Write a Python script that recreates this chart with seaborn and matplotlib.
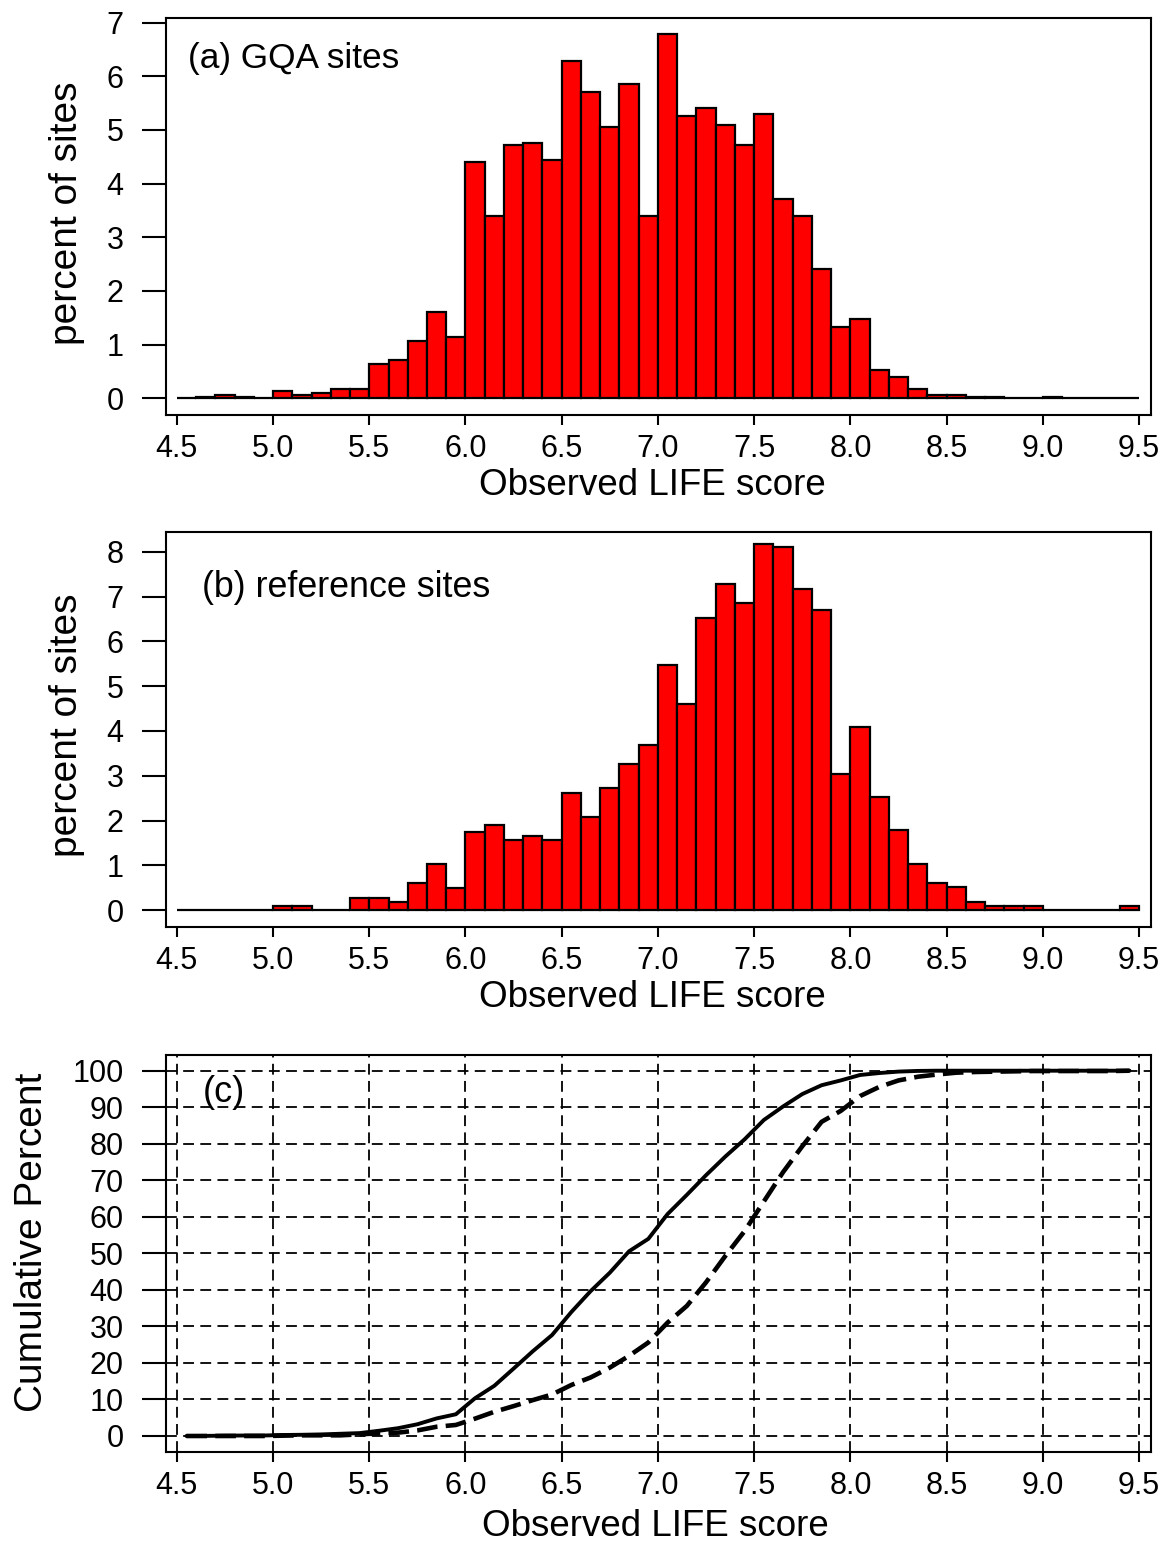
import numpy as np
import pandas as pd
import matplotlib
matplotlib.use("Agg")
import matplotlib.pyplot as plt
import seaborn as sns

# ---------------- data ----------------
# histogram bins: width 0.1 from 4.5 to 9.5 (lower edges 4.5 ... 9.4)
bin_lo = [4.5, 4.6, 4.7, 4.8, 4.9, 5.0, 5.1, 5.2, 5.3, 5.4,
          5.5, 5.6, 5.7, 5.8, 5.9, 6.0, 6.1, 6.2, 6.3, 6.4,
          6.5, 6.6, 6.7, 6.8, 6.9, 7.0, 7.1, 7.2, 7.3, 7.4,
          7.5, 7.6, 7.7, 7.8, 7.9, 8.0, 8.1, 8.2, 8.3, 8.4,
          8.5, 8.6, 8.7, 8.8, 8.9, 9.0, 9.1, 9.2, 9.3, 9.4]

# (a) GQA sites: percent of sites per bin
pct_gqa = [0.00, 0.03, 0.07, 0.03, 0.00, 0.14, 0.06, 0.10, 0.18, 0.18,
           0.64, 0.71, 1.07, 1.60, 1.14, 4.40, 3.40, 4.71, 4.75, 4.44,
           6.29, 5.71, 5.06, 5.86, 3.40, 6.79, 5.25, 5.40, 5.09, 4.71,
           5.29, 3.71, 3.40, 2.41, 1.33, 1.48, 0.53, 0.40, 0.18, 0.06,
           0.06, 0.03, 0.03, 0.00, 0.00, 0.03, 0.00, 0.00, 0.00, 0.00]

# (b) reference sites: percent of sites per bin
pct_ref = [0.00, 0.00, 0.00, 0.00, 0.00, 0.09, 0.09, 0.00, 0.00, 0.28,
           0.28, 0.19, 0.60, 1.02, 0.50, 1.75, 1.89, 1.56, 1.66, 1.56,
           2.62, 2.07, 2.72, 3.26, 3.68, 5.48, 4.61, 6.53, 7.27, 6.85,
           8.18, 8.10, 7.17, 6.71, 3.04, 4.08, 2.53, 1.79, 1.02, 0.61,
           0.51, 0.19, 0.09, 0.09, 0.09, 0.00, 0.00, 0.00, 0.00, 0.09]

# (c) cumulative percent at bin mid-points
cum_gqa = [0.00, 0.03, 0.10, 0.13, 0.13, 0.27, 0.33, 0.43, 0.61, 0.79,
           1.43, 2.14, 3.21, 4.81, 5.95, 10.35, 13.75, 18.46, 23.21, 27.65,
           33.94, 39.65, 44.71, 50.57, 53.97, 60.76, 66.01, 71.41, 76.50, 81.21,
           86.50, 90.21, 93.61, 96.02, 97.35, 98.83, 99.36, 99.76, 99.94, 100.0,
           100.0, 100.0, 100.0, 100.0, 100.0, 100.0, 100.0, 100.0, 100.0, 100.0]

cum_ref = [0.00, 0.00, 0.00, 0.00, 0.00, 0.09, 0.18, 0.18, 0.18, 0.46,
           0.73, 0.92, 1.52, 2.53, 3.02, 4.76, 6.63, 8.18, 9.83, 11.37,
           13.97, 16.02, 18.72, 21.95, 25.60, 31.04, 35.61, 42.08, 49.29, 56.09,
           64.20, 72.23, 79.34, 86.00, 89.01, 93.06, 95.57, 97.34, 98.35, 98.96,
           99.46, 99.65, 99.74, 99.83, 99.91, 99.91, 99.91, 99.91, 99.91, 100.0]

x_ticks = [4.5, 5.0, 5.5, 6.0, 6.5, 7.0, 7.5, 8.0, 8.5, 9.0, 9.5]
x_ticklabels = ["4.5", "5.0", "5.5", "6.0", "6.5", "7.0", "7.5", "8.0", "8.5", "9.0", "9.5"]
y_ticks_a = [0, 1, 2, 3, 4, 5, 6, 7]
y_ticks_b = [0, 1, 2, 3, 4, 5, 6, 7, 8]
y_ticks_c = [0, 10, 20, 30, 40, 50, 60, 70, 80, 90, 100]

# ---------------- style ----------------
sns.set_style("ticks")
plt.rcParams["font.family"] = ["Liberation Sans", "DejaVu Sans"]
plt.rcParams["axes.linewidth"] = 1.5
plt.rcParams["text.color"] = "black"
plt.rcParams["axes.labelcolor"] = "black"
plt.rcParams["xtick.color"] = "black"
plt.rcParams["ytick.color"] = "black"
plt.rcParams["xtick.labelcolor"] = "black"
plt.rcParams["ytick.labelcolor"] = "black"

BW = 0.1
mids = np.array(bin_lo) + BW / 2

df = pd.DataFrame({"score": mids, "gqa": pct_gqa, "ref": pct_ref,
                   "cum_gqa": cum_gqa, "cum_ref": cum_ref})

fig = plt.figure(figsize=(11.69, 15.44), dpi=100)
W, H = 1169.0, 1544.0


def add_ax(left, top, right, bottom):
    return fig.add_axes([left / W, 1 - bottom / H, (right - left) / W, (bottom - top) / H])


ax_a = add_ax(166, 17.7, 1150.7, 415)
ax_b = add_ax(166, 532, 1150.7, 926.7)
ax_c = add_ax(166, 1055, 1150.7, 1451.7)

XLIM = (4.444, 9.56)
TICK_FS = 22
LABEL_FS = 26.5
YLABEL_FS = 28


def style_axis(ax, yticks, ylabel, ylabel_x, ylabel_y, xlabel_x, xlabel_y):
    ax.set_xlim(*XLIM)
    ax.set_xticks(x_ticks)
    ax.set_xticklabels(x_ticklabels)
    ax.set_yticks(yticks)
    ax.set_yticklabels([str(t) for t in yticks])
    ax.tick_params(axis="y", length=17.3, width=1.5, pad=13.3, labelsize=TICK_FS,
                   colors="black", labelcolor="black")
    ax.tick_params(axis="x", length=7.0, width=1.5, pad=7.0, labelsize=TICK_FS,
                   colors="black", labelcolor="black")
    for s in ax.spines.values():
        s.set_visible(True)
        s.set_linewidth(1.5)
        s.set_color("black")
    ax.set_xlabel("Observed LIFE score", fontsize=LABEL_FS, color="black")
    ax.xaxis.label.set_va("baseline")
    ax.xaxis.set_label_coords(xlabel_x, xlabel_y)
    ax.set_ylabel(ylabel, fontsize=YLABEL_FS, color="black")
    ax.yaxis.label.set_va("baseline")
    ax.yaxis.set_label_coords(ylabel_x, ylabel_y)


NBINS = len(bin_lo)
BRANGE = (bin_lo[0], bin_lo[-1] + BW)

# (a)
sns.histplot(data=df, x="score", weights="gqa", bins=NBINS, binrange=BRANGE, ax=ax_a,
             color="#FF0000", edgecolor="black", linewidth=1.6, alpha=1.0)
ax_a.set_ylim(-0.31, 7.09)
style_axis(ax_a, y_ticks_a, "percent of sites", -0.0904, 0.508, 0.494, -0.2014)
ax_a.text(0.0223, 0.873, "(a) GQA sites", transform=ax_a.transAxes,
          fontsize=25.4, ha="left", va="baseline", color="black")

# (b)
sns.histplot(data=df, x="score", weights="ref", bins=NBINS, binrange=BRANGE, ax=ax_b,
             color="#FF0000", edgecolor="black", linewidth=1.6, alpha=1.0)
ax_b.set_ylim(-0.37, 8.44)
style_axis(ax_b, y_ticks_b, "percent of sites", -0.0904, 0.511, 0.494, -0.2027)
ax_b.text(0.0363, 0.836, "(b) reference sites", transform=ax_b.transAxes,
          fontsize=25.8, ha="left", va="baseline", color="black")

# (c)
ax_c.set_ylim(-4.3, 104.3)
ax_c.set_axisbelow(True)
ax_c.grid(True, color="black", linestyle=(0, (6, 3.5)), linewidth=1.3)
sns.lineplot(data=df, x="score", y="cum_gqa", ax=ax_c, color="black", linewidth=2.8,
             solid_joinstyle="round")
sns.lineplot(data=df, x="score", y="cum_ref", ax=ax_c, color="black", linewidth=3.3,
             linestyle=(0, (4.5, 1.8)))
style_axis(ax_c, y_ticks_c, "Cumulative Percent", -0.126, 0.5286, 0.497, -0.2125)
ax_c.text(0.0376, 0.8815, "(c)", transform=ax_c.transAxes,
          fontsize=26, ha="left", va="baseline", color="black")

fig.savefig("out.png", dpi=100)
